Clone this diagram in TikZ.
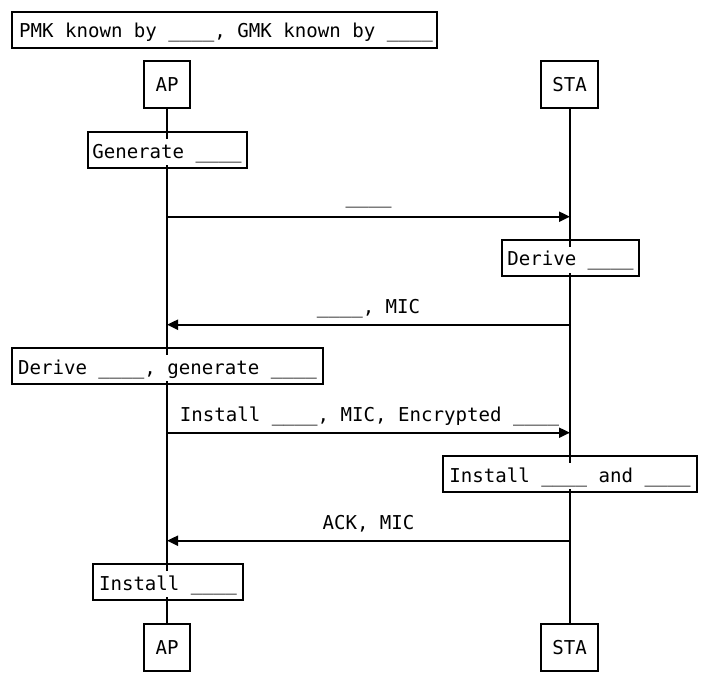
\documentclass[tikz,border=0pt]{standalone}
\usepackage{fontspec}
\setmonofont{DejaVu Sans Mono}
\usetikzlibrary{arrows.meta}
\begin{document}
\begin{tikzpicture}[x=1pt,y=-1pt,
  every node/.style={font=\ttfamily\fontsize{19.1}{23}\selectfont},
  frame/.style={draw, line width=2pt, inner sep=0pt, minimum height=36pt},
  actor/.style={draw, line width=2pt, inner sep=0pt, minimum height=47pt},
  txt/.style={fill=white, inner xsep=1pt, inner ysep=3pt, text height=16pt, text depth=4pt, yshift=-1.8pt},
  life/.style={line width=2pt},
  msg/.style={line width=2pt, -{Triangle[length=11pt,width=10pt]}},
  lbl/.style={anchor=base, inner sep=0pt}]
\useasboundingbox (0,0) rectangle (717,694);
% actors
\node[actor, minimum width=46pt] (apT) at (167,84.5) {AP};
\node[actor, minimum width=57pt] (staT) at (569.5,84.5) {STA};
\node[actor, minimum width=46pt] (apB) at (167,647.5) {AP};
\node[actor, minimum width=57pt] (staB) at (569.5,647.5) {STA};
% lifelines
\draw[life] (apT) -- (apB);
\draw[life] (staT) -- (staB);
% title
\node[frame, minimum width=425pt] (title) at (224.5,30) {};
\node[txt, xshift=1.5pt] (tt) at (title.center) {PMK known by \_\_\_\_, GMK known by \_\_\_\_};
% notes
\node[frame, minimum width=159pt] (n1) at (167,150.3) {};
\node[txt] (t1) at (n1.center) {Generate \_\_\_\_};
\node[frame, minimum width=137.6pt] (n2) at (570.5,257.8) {};
\node[txt] (t2) at (n2.center) {Derive \_\_\_\_};
\node[frame, minimum width=310.4pt] (n3) at (167.5,366.3) {};
\node[txt] (t3) at (n3.center) {Derive \_\_\_\_, generate \_\_\_\_};
\node[frame, minimum width=253.4pt] (n4) at (570,474.3) {};
\node[txt] (t4) at (n4.center) {Install \_\_\_\_ and \_\_\_\_};
\node[frame, minimum width=150.6pt] (n5) at (168,582.2) {};
\node[txt] (t5) at (n5.center) {Install \_\_\_\_};
% messages
\coordinate (a1) at (167,216.7); \coordinate (b1) at (570,216.7);
\coordinate (a2) at (570,324.7); \coordinate (b2) at (167,324.7);
\coordinate (a3) at (167,432.7); \coordinate (b3) at (570,432.7);
\coordinate (a4) at (570,540.7); \coordinate (b4) at (167,540.7);
\draw[msg] (a1) -- (b1);
\draw[msg] (a2) -- (b2);
\draw[msg] (a3) -- (b3);
\draw[msg] (a4) -- (b4);
\node[lbl] (l1) at (368.5,203) {\_\_\_\_};
\node[lbl] (l2) at (368.5,313) {\_\_\_\_, MIC};
\node[lbl] (l3) at (369.5,421) {Install \_\_\_\_, MIC, Encrypted \_\_\_\_};
\node[lbl] (l4) at (368.5,529.5) {ACK, MIC};
\end{tikzpicture}
\end{document}
